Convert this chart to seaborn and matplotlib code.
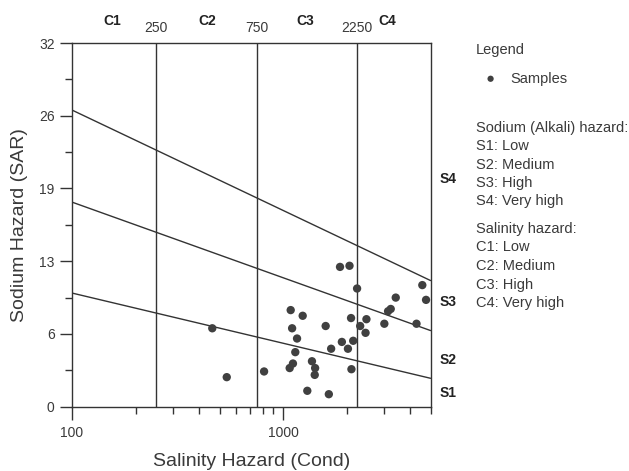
import numpy as np
import pandas as pd
import matplotlib as mpl
mpl.use("Agg")
import matplotlib.pyplot as plt
import seaborn as sns
from matplotlib.ticker import FixedLocator, NullFormatter

sns.set_style("ticks")
plt.rcParams['font.family'] = ['Liberation Sans', 'DejaVu Sans']

# sample points (conductivity, SAR)
cond = [462, 541, 813, 1087, 1239, 1104, 1165, 1143, 1114, 1075, 1303, 1648,
        1371, 1419, 1413, 1592, 1690, 1862, 2065, 2243, 4570, 4760, 3420, 3238,
        3145, 2100, 2484, 2320, 3020, 4290, 2460, 2150, 1900, 2030, 2109]
sar = [6.9, 2.6, 3.1, 8.5, 8.0, 6.9, 6.0, 4.8, 3.8, 3.4, 1.4, 1.1,
       4.0, 3.4, 2.8, 7.1, 5.1, 12.3, 12.4, 10.4, 10.7, 9.4, 9.6, 8.6,
       8.4, 7.8, 7.7, 7.1, 7.3, 7.3, 6.5, 5.8, 5.7, 5.1, 3.3]

# salinity class boundaries and labels
c_bounds = [250, 750, 2250]
c_labels = ['C1', 'C2', 'C3', 'C4']
c_label_x = [155, 436, 1270, 3110]

# sodium hazard boundary lines: SAR at cond = 100 and cond = 5000
s_line_x = [100, 5000]
s_lines = [[10.0, 2.5], [18.0, 6.7], [26.1, 11.1]]
s_labels = ['S1', 'S2', 'S3', 'S4']
s_label_y = [1.2, 4.1, 9.2, 20.0]

legend_sodium = ['S1: Low', 'S2: Medium', 'S3: High', 'S4: Very high']
legend_salinity = ['C1: Low', 'C2: Medium', 'C3: High', 'C4: Very high']

df = pd.DataFrame({'cond': cond, 'sar': sar})

fig = plt.figure(figsize=(6.29, 4.71), dpi=100)
ax = fig.add_axes([0.1145, 0.1365, 0.57, 0.7722])

line_col = '#333333'
txt_col = '#3a3a3a'
for b in c_bounds:
    ax.axvline(b, color=line_col, lw=1.0)
for ys in s_lines:
    ax.plot(s_line_x, ys, color=line_col, lw=1.0)

sns.scatterplot(data=df, x='cond', y='sar', ax=ax, color='#404040', s=36,
                edgecolor='none', label='Samples', zorder=3)

ax.set_xscale('log')
ax.set_xlim(100, 5000)
ax.set_ylim(0, 32)
yt = np.linspace(0, 32, 6)
ax.set_yticks(yt)
ax.set_yticklabels(['%.0f' % v for v in yt])
ax.yaxis.set_minor_locator(FixedLocator(yt[:-1] + 3.2))
ax.set_xticks([100, 1000])
ax.set_xticklabels(['100', '1000'])
ax.xaxis.set_minor_locator(FixedLocator(list(range(200, 1000, 100)) + list(range(2000, 5001, 1000))))
ax.xaxis.set_minor_formatter(NullFormatter())

ax.tick_params(axis='both', which='major', length=9, width=1, color=line_col,
               labelsize=10, labelcolor=txt_col)
ax.tick_params(axis='both', which='minor', length=5, width=1, color=line_col)
ax.tick_params(axis='x', pad=5)
for sp in ax.spines.values():
    sp.set_color(line_col)
    sp.set_linewidth(1.0)

ax.set_xlabel('Salinity Hazard (Cond)', fontsize=14, color=txt_col, labelpad=9)
ax.set_ylabel('Sodium Hazard (SAR)', fontsize=14, color=txt_col, labelpad=8)

# top labels
for x, lab in zip(c_label_x, c_labels):
    ax.text(x, 1.06, lab, transform=ax.get_xaxis_transform(), ha='center',
            va='center', fontsize=10, fontweight='bold', color='#222222')
for b in c_bounds:
    ax.text(b, 1.042, str(b), transform=ax.get_xaxis_transform(), ha='center',
            va='center', fontsize=10, color=txt_col)

# right S labels
for y, lab in zip(s_label_y, s_labels):
    ax.text(1.024, y, lab, transform=ax.get_yaxis_transform(), ha='left',
            va='center', fontsize=10, fontweight='bold', color='#222222')

leg = ax.legend(loc='upper left', bbox_to_anchor=(476 / 629, 1 - 43 / 471),
                bbox_transform=fig.transFigure, frameon=False, title='Legend',
                fontsize=10.5, title_fontsize=10.5, handletextpad=0.35,
                borderpad=0, borderaxespad=0, handlelength=2.0,
                labelspacing=1.0, markerscale=0.75)
leg._legend_box.align = 'left'
for t in leg.get_texts():
    t.set_color(txt_col)
leg.get_title().set_color(txt_col)

tx = 476 / 629
fig.text(tx, 1 - 127.7 / 471, 'Sodium (Alkali) hazard:', fontsize=10.5,
         color=txt_col, va='center')
for i, t in enumerate(legend_sodium):
    fig.text(tx, 1 - (146.3 + 18.3 * i) / 471, t, fontsize=10.5,
             color=txt_col, va='center')
fig.text(tx, 1 - 229 / 471, 'Salinity hazard:', fontsize=10.5,
         color=txt_col, va='center')
for i, t in enumerate(legend_salinity):
    fig.text(tx, 1 - (247.3 + 18.6 * i) / 471, t, fontsize=10.5,
             color=txt_col, va='center')

plt.savefig('out.png', dpi=100)
